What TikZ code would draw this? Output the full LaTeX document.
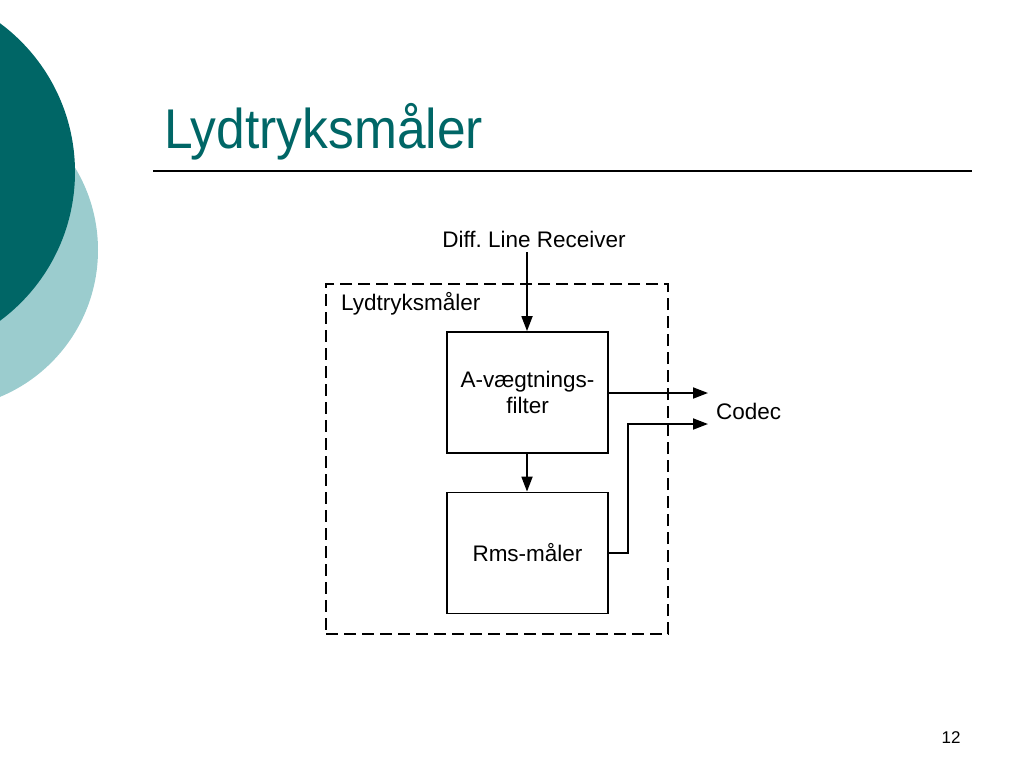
\documentclass[tikz,border=0pt]{standalone}
\usepackage{fontspec}
\setmainfont{Liberation Sans}
\usetikzlibrary{arrows.meta}
\definecolor{darkteal}{RGB}{0,102,102}
\definecolor{lightteal}{RGB}{155,204,206}
\frenchspacing
\begin{document}
\begin{tikzpicture}[x=1pt,y=-1pt,
  blk/.style={draw,line width=1.8pt,minimum width=161pt,minimum height=121pt,inner sep=0pt,align=center,font=\fontsize{22.5}{26}\selectfont},
  lbl/.style={inner sep=0pt,font=\fontsize{22.5}{24}\selectfont},
  conn/.style={line width=1.8pt,-{Triangle[length=15pt,width=11pt]}},
  frame/.style={draw,line width=1.8pt,dash pattern=on 12pt off 6pt}]
\useasboundingbox (0,0) rectangle (1024,768);
\fill[lightteal] (-61,250) circle (159);
\fill[darkteal] (-110,172) circle (185);
\node[anchor=base west,inner sep=0pt,text=darkteal,xscale=0.92,font=\fontsize{56}{60}\selectfont] (title) at (164,148) {Lydtryksmåler};
\coordinate (rl) at (153,171);
\coordinate (rr) at (972,171);
\draw[line width=1.8pt] (rl) -- (rr);
\node[frame,minimum width=342pt,minimum height=350pt,inner sep=0pt] (sys) at (497,459) {};
\node[lbl,anchor=base west] (syslbl) at (341,310) {Lydtryksmåler};
\node[blk] (af) at (527.5,392.5) {A-vægtnings-\\filter};
\node[blk] (rms) at (527.5,553) {Rms-måler};
\node[lbl,anchor=base] (diff) at (534,247) {Diff.\ Line Receiver};
\node[lbl,anchor=base west] (codec) at (716,419) {Codec};
\coordinate (o1) at (708,393);
\coordinate (o2) at (708,424);
\coordinate (din) at (527,252);
\draw[conn] (din) -- (din |- af.north);
\draw[conn] (din |- af.south) -- (din |- rms.north);
\draw[conn] (af.east |- o1) -- (o1);
\draw[conn] (rms.east) -- (628,553) -- (628,424) -- (o2);
\node[anchor=base,inner sep=0pt,font=\fontsize{17}{18}\selectfont] (pg) at (951,743) {12};
\end{tikzpicture}
\end{document}
